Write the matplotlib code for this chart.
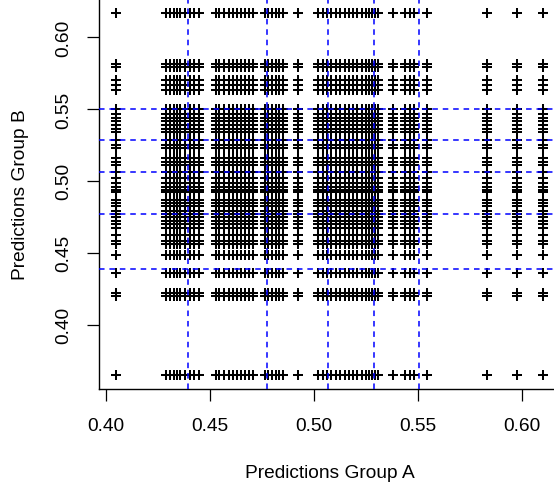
import numpy as np
import matplotlib
matplotlib.use("Agg")
import matplotlib.pyplot as plt

# Distinct prediction values
group_a = [0.4048, 0.4289, 0.4308, 0.4327, 0.4342, 0.4356, 0.4380, 0.4404, 0.4423, 0.4447,
           0.4529, 0.4544, 0.4568, 0.4592, 0.4611, 0.4630, 0.4650, 0.4669, 0.4688, 0.4707,
           0.4765, 0.4780, 0.4799, 0.4818, 0.4833, 0.4852, 0.4924,
           0.5020, 0.5044, 0.5063, 0.5083, 0.5107, 0.5126, 0.5150, 0.5169, 0.5189, 0.5208,
           0.5232, 0.5251, 0.5266, 0.5280, 0.5294, 0.5309, 0.5381,
           0.5439, 0.5463, 0.5482, 0.5545, 0.5833, 0.5978, 0.6103]
group_b = [0.6169, 0.5811, 0.5791, 0.5704, 0.5669, 0.5635, 0.5503, 0.5468, 0.5440, 0.5420,
           0.5387, 0.5364, 0.5341, 0.5283, 0.5248, 0.5232, 0.5156, 0.5133, 0.5114, 0.5064,
           0.5017, 0.4983, 0.4955, 0.4934, 0.4920, 0.4867, 0.4844, 0.4823, 0.4789, 0.4768,
           0.4747, 0.4721, 0.4698, 0.4671, 0.4624, 0.4580, 0.4563, 0.4485, 0.4358, 0.4220,
           0.4199, 0.3653]
# Quantile reference lines
vlines_a = [0.4396, 0.4773, 0.5070, 0.5290, 0.5508]
hlines_b = [0.4389, 0.4768, 0.5064, 0.5283, 0.5503]
ticks = [0.40, 0.45, 0.50, 0.55, 0.60]
tick_labels = ["0.40", "0.45", "0.50", "0.55", "0.60"]

plt.rcParams['font.family'] = ['Liberation Sans', 'DejaVu Sans']
plt.rcParams['lines.scale_dashes'] = False
FS = 13.8

W, H = 554, 489
fig = plt.figure(figsize=(W / 100, H / 100), dpi=100)
left_px, right_px, bottom_px, top_px = 99, 560, 390, -0.6
ax = fig.add_axes([left_px / W, 1 - bottom_px / H,
                   (right_px - left_px) / W, (bottom_px - top_px) / H])

xx, yy = np.meshgrid(group_a, group_b)
ax.plot(xx.ravel(), yy.ravel(), linestyle='none', marker='+', color='black',
        markersize=7.8, markeredgewidth=1.45, zorder=2)

for v in vlines_a:
    ax.axvline(v, color='#0000FF', lw=1.1, ls=(0, (4.0, 3.5)), zorder=3)
for h in hlines_b:
    ax.axhline(h, color='#0000FF', lw=1.1, ls=(0, (4.0, 3.5)), zorder=3)

def rlim(vals):
    lo, hi = min(vals), max(vals)
    d = (hi - lo) * 0.04
    return lo - d, hi + d

ax.set_xlim(*rlim(group_a))
ax.set_ylim(*rlim(group_b))

ax.set_xticks(ticks)
ax.set_xticklabels(tick_labels, fontsize=FS)
ax.set_yticks(ticks)
ax.set_yticklabels(tick_labels, fontsize=FS, rotation=90, va='center')
ax.tick_params(axis='x', length=8.3, width=0.9, pad=12, direction='out')
ax.tick_params(axis='y', length=8.3, width=0.9, pad=11.3, direction='out')
for s in ax.spines.values():
    s.set_linewidth(1.0)
    s.set_color('black')

fig.text(330 / W, 1 - 478.3 / H, "Predictions Group A", fontsize=FS,
         ha='center', va='baseline')
fig.text(25 / W, 1 - 195 / H, "Predictions Group B", fontsize=FS,
         ha='center', va='baseline', rotation=90, rotation_mode='anchor')

fig.savefig("out.png", dpi=100)
